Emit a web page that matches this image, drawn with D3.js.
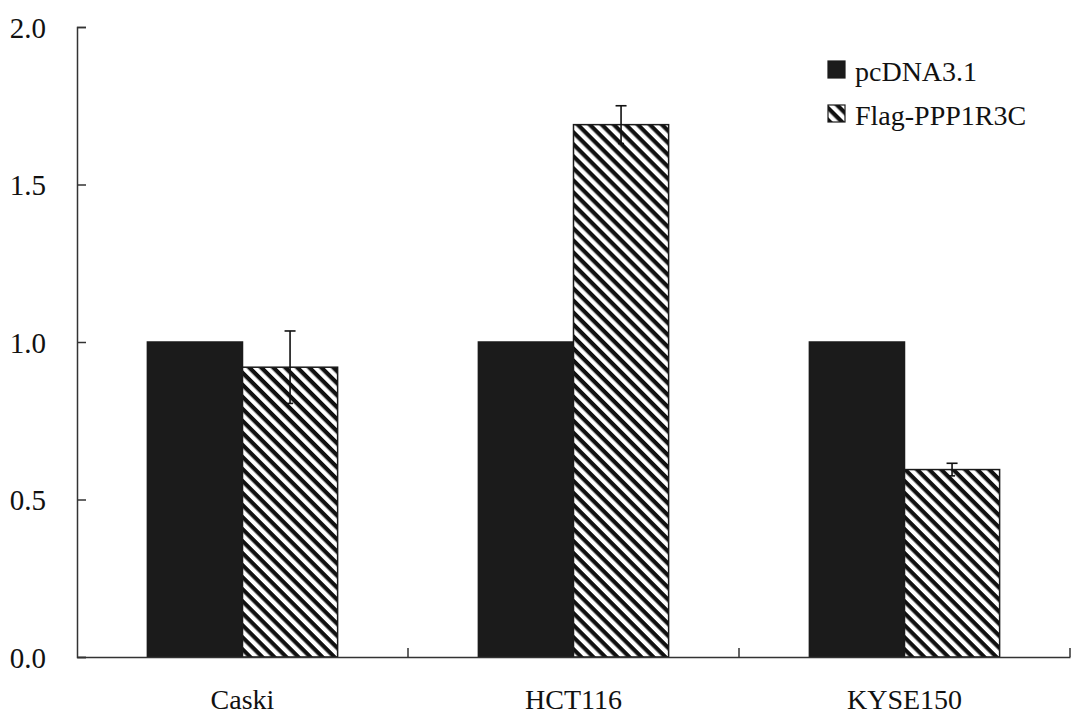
<!DOCTYPE html>
<html>
<head>
<meta charset="utf-8">
<script src="https://cdn.jsdelivr.net/npm/d3@7"></script>
<style>
  body { margin: 0; background: #fff; }
  svg text { font-family: "Liberation Serif", "DejaVu Serif", serif; fill: #111; }
</style>
</head>
<body>
<svg id="chart" width="1072" height="719"></svg>
<script>
// data
var categories = ["Caski", "HCT116", "KYSE150"];
var seriesNames = ["pcDNA3.1", "Flag-PPP1R3C"];
var pcdnaValues = [1.0, 1.0, 1.0];
var flagValues = [0.92, 1.69, 0.595];
var flagErrors = [0.115, 0.06, 0.02];
var yTicks = [0, 0.5, 1.0, 1.5, 2.0];

var svg = d3.select("#chart");
var serif = "Liberation Serif";

var plotLeft = 77, plotRight = 1070, plotTop = 27, plotBottom = 657;

var x0 = d3.scaleBand()
    .domain(categories)
    .range([plotLeft, plotRight])
    .paddingInner(0)
    .paddingOuter(0);

var x1 = d3.scaleBand()
    .domain(seriesNames)
    .range([0, x0.bandwidth()])
    .paddingInner(0)
    .paddingOuter(0.74);

var y = d3.scaleLinear()
    .domain([0, 2])
    .range([plotBottom, plotTop]);

// hatch pattern
var defs = svg.append("defs");
var pat = defs.append("pattern")
    .attr("id", "hatch")
    .attr("patternUnits", "userSpaceOnUse")
    .attr("width", 8.5)
    .attr("height", 8.5)
    .attr("patternTransform", "rotate(45)");
pat.append("rect").attr("width", 8.5).attr("height", 8.5).attr("fill", "#fff");
pat.append("rect").attr("width", 8.5).attr("height", 4.2).attr("fill", "#111");

// rows built from the arrays
var rows = categories.map(function(c, i) {
    return {cat: c, vals: [
        {name: seriesNames[0], value: pcdnaValues[i], err: 0},
        {name: seriesNames[1], value: flagValues[i], err: flagErrors[i]}
    ]};
});

var groups = svg.append("g").selectAll("g")
    .data(rows)
    .enter().append("g")
    .attr("transform", function(d) { return "translate(" + x0(d.cat) + ",0)"; });

groups.selectAll("rect")
    .data(function(d) { return d.vals; })
    .enter().append("rect")
    .attr("x", function(d) { return x1(d.name); })
    .attr("y", function(d) { return y(d.value); })
    .attr("width", x1.bandwidth())
    .attr("height", function(d) { return y(0) - y(d.value); })
    .attr("fill", function(d, i) { return i === 0 ? "#1b1b1b" : "url(#hatch)"; })
    .attr("stroke", "#1b1b1b")
    .attr("stroke-width", 1.5);

// error bars on the Flag series
var errG = groups.append("g")
    .attr("stroke", "#111")
    .attr("stroke-width", 1.6);
errG.each(function(d) {
    var v = d.vals[1];
    var cx = x1(v.name) + x1.bandwidth() / 2;
    var g = d3.select(this);
    g.append("line").attr("x1", cx).attr("x2", cx)
        .attr("y1", y(v.value + v.err)).attr("y2", y(v.value - v.err));
    g.append("line").attr("x1", cx - 5.5).attr("x2", cx + 5.5)
        .attr("y1", y(v.value + v.err)).attr("y2", y(v.value + v.err));
    g.append("line").attr("x1", cx - 3).attr("x2", cx + 3)
        .attr("y1", y(v.value - v.err)).attr("y2", y(v.value - v.err));
});

// y axis
var yAxis = d3.axisLeft(y)
    .tickValues(yTicks)
    .tickFormat(d3.format(".1f"))
    .tickSize(-9)
    .tickPadding(31);
var yG = svg.append("g")
    .attr("transform", "translate(" + plotLeft + ",0)")
    .call(yAxis)
    .attr("font-family", serif)
    .attr("font-size", 29);
yG.select(".domain").attr("stroke", "#333").attr("stroke-width", 1.5);
yG.selectAll(".tick line").attr("stroke", "#333").attr("stroke-width", 1.5);
yG.selectAll(".tick text").attr("fill", "#111").attr("dy", "0.36em");

// x axis: labels centred, tick marks at group boundaries
var xAxis = d3.axisBottom(x0).tickSize(0).tickPadding(32);
var xG = svg.append("g")
    .attr("transform", "translate(0," + plotBottom + ")")
    .call(xAxis)
    .attr("font-family", serif)
    .attr("font-size", 28);
xG.select(".domain").attr("stroke", "#333").attr("stroke-width", 1.5);
xG.selectAll(".tick text").attr("fill", "#111");
xG.selectAll(".bound")
    .data(categories)
    .enter().append("line")
    .attr("class", "bound")
    .attr("x1", function(c) { return x0(c) + x0.bandwidth(); })
    .attr("x2", function(c) { return x0(c) + x0.bandwidth(); })
    .attr("y1", 0)
    .attr("y2", -9)
    .attr("stroke", "#333")
    .attr("stroke-width", 1.5);

// legend
var legend = svg.append("g").attr("transform", "translate(828,61)");
var items = legend.selectAll("g")
    .data(seriesNames)
    .enter().append("g")
    .attr("transform", function(d, i) { return "translate(0," + (i * 44) + ")"; });
items.append("rect")
    .attr("width", 17)
    .attr("height", 17)
    .attr("fill", function(d, i) { return i === 0 ? "#1b1b1b" : "url(#hatch)"; })
    .attr("stroke", "#1b1b1b")
    .attr("stroke-width", 1.2);
items.append("text")
    .attr("x", 27)
    .attr("y", 20)
    .attr("font-family", serif)
    .attr("font-size", 28)
    .text(function(d) { return d; });
</script>
</body>
</html>
